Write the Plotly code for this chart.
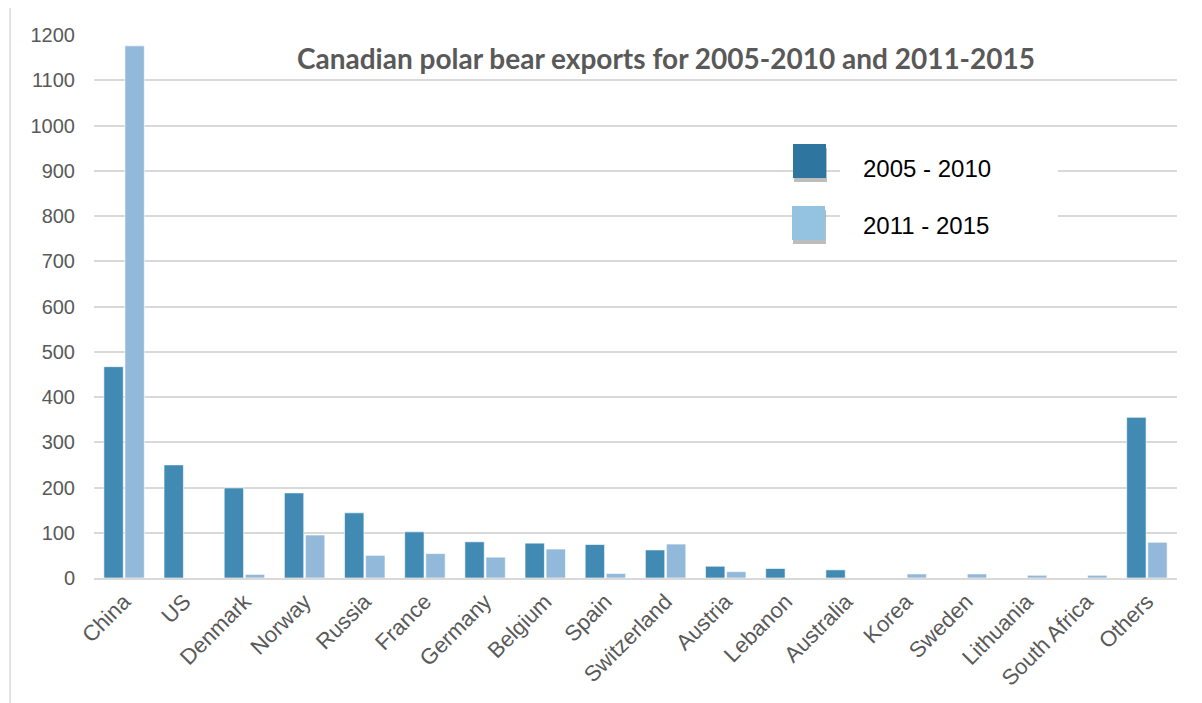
import plotly.graph_objects as go

categories = ["China", "US", "Denmark", "Norway", "Russia", "France", "Germany", "Belgium",
              "Spain", "Switzerland", "Austria", "Lebanon", "Australia", "Korea", "Sweden",
              "Lithuania", "South Africa", "Others"]
exports_2005_2010 = [467, 250, 199, 188, 144, 102, 80, 77, 74, 62, 26, 21, 18, 0, 0, 0, 0, 355]
exports_2011_2015 = [1176, 0, 8, 95, 50, 54, 46, 64, 10, 75, 14, 0, 0, 9, 9, 6, 6, 79]
series_names = ["2005 - 2010", "2011 - 2015"]
y_ticks = list(range(0, 1300, 100))

OFF = 8  # page body margin offset
W, H = 1202, 703
# desired screen coords of plot area: x 94..1177, y 35..578
L, T = 94 - OFF, 35 - OFF
R = W - (1177 - OFF)
B = H - (578 - OFF)
PW, PH = W - L - R, H - T - B


def px(x):
    return (x - OFF - L) / PW


def py(y):
    return (H - B - (y - OFF)) / PH


fig = go.Figure()
fig.add_trace(go.Bar(x=categories, y=exports_2005_2010, name=series_names[0],
                     marker=dict(color="#408AB4", line=dict(color="rgba(255,255,255,0.6)", width=1))))
fig.add_trace(go.Bar(x=categories, y=exports_2011_2015, name=series_names[1],
                     marker=dict(color="#93B9DA", line=dict(color="rgba(255,255,255,0.6)", width=1))))

shapes = []
# outer chart border (left & top)
shapes.append(dict(type="line", xref="paper", yref="paper", x0=px(10), x1=px(10), y0=py(5), y1=py(720),
                   line=dict(color="#D9D9D9", width=1.5), layer="above"))
shapes.append(dict(type="line", xref="paper", yref="paper", x0=px(10), x1=px(1196), y0=py(5), y1=py(5),
                   line=dict(color="#D9D9D9", width=1.5), layer="above"))
# legend background
shapes.append(dict(type="rect", xref="paper", yref="paper", x0=px(840), x1=px(1058), y0=py(140), y1=py(248),
                   fillcolor="white", line=dict(width=0), layer="above"))
legend_colors = ["#2E75A0", "#93C3E0"]
sw = [(793, 144), (792, 206)]
for (sx, sy), c in zip(sw, legend_colors):
    shapes.append(dict(type="rect", xref="paper", yref="paper", x0=px(sx + 1), x1=px(sx + 34), y0=py(sy + 4),
                       y1=py(sy + 38), fillcolor="rgba(90,90,90,0.4)", line=dict(width=0), layer="above"))
    shapes.append(dict(type="rect", xref="paper", yref="paper", x0=px(sx), x1=px(sx + 33), y0=py(sy),
                       y1=py(sy + 34), fillcolor=c, line=dict(width=0), layer="above"))

annotations = [
    dict(text="<b>Canadian polar bear exports for 2005-2010 and 2011-2015</b>", xref="paper", yref="paper",
         x=px(666), y=py(58), xanchor="center", yanchor="middle", showarrow=False,
         font=dict(family="Lato", size=28, color="#595959")),
]
for name, ty in zip(series_names, [168, 225]):
    annotations.append(dict(text=name, xref="paper", yref="paper", x=px(861), y=py(ty), xanchor="left",
                            yanchor="middle", showarrow=False,
                            font=dict(family="Liberation Sans", size=24, color="#000000")))

fig.update_layout(
    width=W, height=H,
    margin=dict(l=L, r=R, t=T, b=B, pad=0),
    paper_bgcolor="white", plot_bgcolor="white",
    barmode="group", bargap=0.3, bargroupgap=0.08,
    showlegend=False,
    shapes=shapes, annotations=annotations,
    font=dict(family="Liberation Sans", color="#595959"),
    xaxis=dict(tickangle=-45, tickfont=dict(size=22, color="#595959"), showgrid=False,
               showline=True, linecolor="#D9D9D9", linewidth=2, ticks=""),
    yaxis=dict(range=[0, 1200], tickvals=y_ticks, tickfont=dict(size=20, color="#595959"),
               showgrid=True, gridcolor="#D9D9D9", gridwidth=2, zeroline=False, ticks="",
               ticklabelstandoff=18),
)

fig.write_html("out.html")
